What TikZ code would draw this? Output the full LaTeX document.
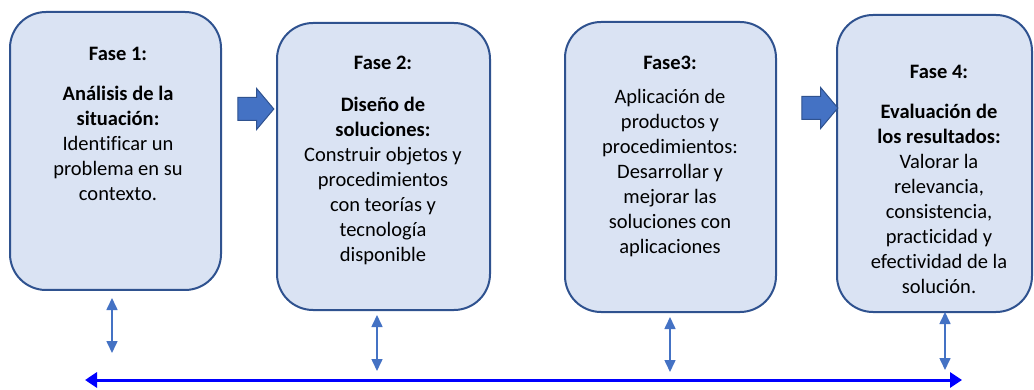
\documentclass[tikz,border=0pt]{standalone}
\usepackage{fontspec}
\setmainfont[Ligatures=NoCommon]{Carlito}
\usepackage{tikz}
\usetikzlibrary{arrows.meta,shapes.arrows}
\definecolor{boxfill}{HTML}{DAE3F3}
\definecolor{boxline}{HTML}{2F528F}
\definecolor{accent}{HTML}{4472C4}

\begin{document}
\begin{tikzpicture}[x=1pt, y=-1pt,
    phase/.style={draw=boxline, line width=2pt, fill=boxfill, rounded corners=36pt},
    title/.style={font=\fontsize{20.5}{25}\selectfont\bfseries, inner sep=0pt},
    body/.style={font=\fontsize{20.5}{25}\selectfont, align=center, anchor=north, inner sep=0pt},
    blockarrow/.style={single arrow, draw=boxline, line width=1pt, fill=accent, inner sep=11pt,
        minimum height=36pt, single arrow head extend=9pt, single arrow tip angle=100},
    dblarrow/.style={accent, line width=1.6pt, {Triangle[width=11pt,length=12pt]}-{Triangle[width=11pt,length=12pt]}},
    longarrow/.style={blue, line width=3pt, {Triangle[width=15pt,length=12pt]}-{Triangle[width=15pt,length=12pt]}}]
        \useasboundingbox (0,0) rectangle (1034,390);

        % Fase 1
        \draw[phase] (10,12) rectangle (221,290);
        \node[title] (t1) at (118,54) {Fase 1:};
        \node[body] (b1) at (118,86) {\textbf{Análisis de la}\\\textbf{situación:}\\Identificar un\\problema en su\\contexto.};

        % Fase 2
        \draw[phase] (277,23) rectangle (490,310);
        \node[title] (t2) at (383,63) {Fase 2:};
        \node[body] (b2) at (383,97) {\textbf{Diseño de}\\\textbf{soluciones:}\\Construir objetos y\\procedimientos\\con teorías y\\tecnología\\disponible};

        % Fase 3
        \draw[phase] (565,22) rectangle (776,312);
        \node[title] (t3) at (670,63) {Fase3:};
        \node[body] (b3) at (670,89) {Aplicación de\\productos y\\procedimientos:\\Desarrollar y\\mejorar las\\soluciones con\\aplicaciones};

        % Fase 4
        \draw[phase] (837,15) rectangle (1032,312);
        \node[title] (t4) at (939,72) {Fase 4:};
        \node[body] (b4) at (939,104) {\textbf{Evaluación de}\\\textbf{los resultados:}\\Valorar la\\relevancia,\\consistencia,\\practicidad y\\efectividad de la\\solución.};

        % block arrows
        \node[blockarrow] (a12) at (251,109) {};
        \node[blockarrow] (a34) at (815,108) {};

        % links to the bottom line
        \coordinate (d1a) at (112,298);
        \coordinate (d1b) at (112,353);
        \coordinate (d2a) at (377,315);
        \coordinate (d2b) at (377,371);
        \coordinate (d3a) at (670,317);
        \coordinate (d3b) at (670,372);
        \coordinate (d4a) at (945,312);
        \coordinate (d4b) at (945,370);
        \draw[dblarrow] (d1a) -- (d1b);
        \draw[dblarrow] (d2a) -- (d2b);
        \draw[dblarrow] (d3a) -- (d3b);
        \draw[dblarrow] (d4a) -- (d4b);

        % bottom line
        \coordinate (left) at (85,380);
        \coordinate (right) at (962,380);
        \draw[longarrow] (left) -- (right);
    \end{tikzpicture}
\end{document}
